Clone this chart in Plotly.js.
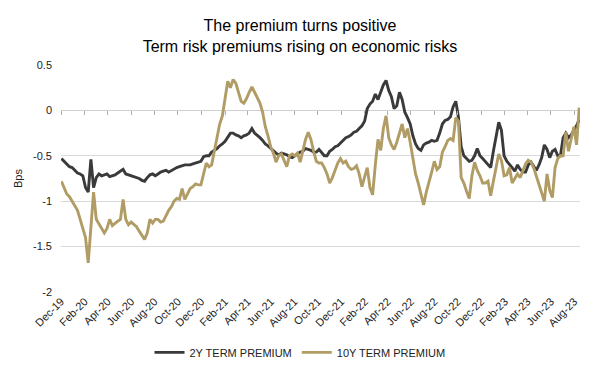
<!DOCTYPE html>
<html>
<head>
<meta charset="utf-8">
<script src="https://cdn.plot.ly/plotly-3.0.1.min.js"></script>
<style>html,body{margin:0;padding:0;background:#fff;}#chart{width:600px;height:369px;}</style>
</head>
<body>
<div id="chart"></div>
<script>
// Weekly observations starting Monday 2019-12-02
const startDate = "2019-12-02";
const seriesNames = ["2Y TERM PREMIUM", "10Y TERM PREMIUM"];
const yTickVals = [0.5, 0, -0.5, -1, -1.5, -2];
const yTickText = ["0.5", "0", "-0.5", "-1", "-1.5", "-2"];

const premium2y = [
 -0.53,-0.56,-0.60,-0.62,-0.63,-0.66,-0.69,-0.70,-0.72,-0.85,
 -0.90,-0.54,-0.85,-0.74,-0.70,-0.72,-0.71,-0.70,-0.73,-0.72,
 -0.71,-0.69,-0.67,-0.65,-0.70,-0.71,-0.72,-0.73,-0.74,-0.75,
 -0.77,-0.78,-0.74,-0.71,-0.70,-0.72,-0.70,-0.68,-0.67,-0.66,
 -0.68,-0.66,-0.64,-0.63,-0.62,-0.61,-0.60,-0.60,-0.60,-0.59,
 -0.58,-0.57,-0.56,-0.51,-0.50,-0.50,-0.46,-0.44,-0.42,-0.39,
 -0.37,-0.34,-0.30,-0.25,-0.25,-0.27,-0.28,-0.30,-0.28,-0.27,
 -0.25,-0.20,-0.25,-0.27,-0.30,-0.33,-0.37,-0.39,-0.42,-0.45,
 -0.47,-0.49,-0.47,-0.48,-0.49,-0.51,-0.52,-0.50,-0.48,-0.46,
 -0.45,-0.42,-0.43,-0.44,-0.46,-0.46,-0.43,-0.47,-0.50,-0.50,
 -0.45,-0.43,-0.40,-0.39,-0.36,-0.33,-0.30,-0.29,-0.27,-0.24,
 -0.23,-0.20,-0.17,-0.12,0.02,0.07,0.10,0.18,0.12,0.20,
 0.28,0.33,0.22,0.15,0.02,0.05,0.20,0.12,-0.02,-0.08,
 -0.15,-0.28,-0.37,-0.42,-0.44,-0.38,-0.36,-0.35,-0.33,-0.34,
 -0.33,-0.25,-0.15,-0.11,-0.10,-0.07,0.04,0.10,-0.08,-0.40,
 -0.50,-0.53,-0.56,-0.55,-0.50,-0.42,-0.50,-0.53,-0.56,-0.60,
 -0.63,-0.45,-0.30,-0.13,-0.22,-0.50,-0.56,-0.59,-0.63,-0.67,
 -0.60,-0.65,-0.68,-0.68,-0.60,-0.57,-0.62,-0.66,-0.60,-0.52,
 -0.38,-0.43,-0.52,-0.45,-0.43,-0.50,-0.50,-0.30,-0.25,-0.30,
 -0.27,-0.22,-0.17,-0.10
];

const premium10y = [
 -0.78,-0.85,-0.92,-0.95,-1.00,-1.06,-1.10,-1.20,-1.30,-1.40,
 -1.68,-1.30,-0.90,-1.20,-1.25,-1.30,-1.35,-1.30,-1.20,-1.27,
 -1.24,-1.22,-1.20,-0.98,-1.20,-1.26,-1.23,-1.26,-1.28,-1.33,
 -1.37,-1.42,-1.35,-1.20,-1.24,-1.20,-1.20,-1.23,-1.22,-1.15,
 -1.10,-1.06,-1.00,-0.97,-0.98,-0.86,-0.98,-0.92,-0.86,-0.84,
 -0.81,-0.82,-0.82,-0.70,-0.58,-0.62,-0.60,-0.45,-0.30,-0.15,
 -0.06,0.12,0.32,0.25,0.34,0.30,0.20,0.10,0.08,0.13,
 0.20,0.26,0.20,0.14,0.08,-0.02,-0.18,-0.28,-0.40,-0.47,
 -0.57,-0.50,-0.48,-0.55,-0.62,-0.50,-0.48,-0.50,-0.47,-0.57,
 -0.43,-0.32,-0.24,-0.32,-0.45,-0.56,-0.58,-0.58,-0.63,-0.70,
 -0.80,-0.74,-0.66,-0.58,-0.53,-0.58,-0.56,-0.62,-0.65,-0.64,
 -0.61,-0.70,-0.84,-0.72,-0.63,-0.85,-0.93,-0.60,-0.32,-0.44,
 -0.20,-0.06,-0.30,-0.38,-0.43,-0.35,-0.26,-0.15,-0.30,-0.20,
 -0.35,-0.52,-0.70,-0.80,-0.92,-1.04,-0.90,-0.80,-0.68,-0.56,
 -0.65,-0.62,-0.46,-0.40,-0.33,-0.31,-0.33,-0.08,-0.12,-0.74,
 -0.80,-0.89,-0.97,-0.72,-0.57,-0.66,-0.72,-0.80,-0.80,-0.78,
 -0.94,-0.78,-0.62,-0.48,-0.55,-0.72,-0.71,-0.63,-0.80,-0.75,
 -0.70,-0.74,-0.66,-0.59,-0.55,-0.57,-0.63,-0.72,-0.82,-0.90,
 -1.00,-0.70,-0.88,-0.96,-0.63,-0.53,-0.50,-0.50,-0.24,-0.45,
 -0.30,-0.18,-0.38,0.03
];

const dates = [];
const t0 = Date.parse(startDate + "T00:00:00Z");
for (let k = 0; k < premium2y.length; k++) {
  dates.push(new Date(t0 + k * 7 * 86400000).toISOString().slice(0, 10));
}

const xRange = ["2019-12-01", "2023-08-16"];
const FONT = "Liberation Sans, Arial, sans-serif";

const traces = [
  {x: dates, y: premium2y, name: seriesNames[0], type: "scatter", mode: "lines",
   line: {color: "#3a3a3a", width: 2.9}, xaxis: "x", yaxis: "y"},
  {x: dates, y: premium10y, name: seriesNames[1], type: "scatter", mode: "lines",
   line: {color: "#b09c64", width: 2.9}, xaxis: "x2", yaxis: "y"}
];

const layout = {
  width: 600, height: 369,
  margin: {l: 61, r: 20, t: 65, b: 77},
  paper_bgcolor: "#fff", plot_bgcolor: "#fff",
  font: {family: FONT, size: 11, color: "#000"},
  title: {text: "The premium turns positive<br>Term risk premiums rising on economic risks",
          x: 0.5, xanchor: "center", y: 0.915, yanchor: "middle",
          font: {family: FONT, size: 16, color: "#000"}},
  showlegend: true,
  legend: {orientation: "h", xref: "container", yref: "container",
           x: 0.5, xanchor: "center", y: 0.045, yanchor: "middle",
           font: {family: FONT, size: 11, color: "#222"}, itemwidth: 30,
           traceorder: "normal", tracegroupgap: 0},
  xaxis: {type: "date", range: xRange, tick0: "2019-12-01", dtick: "M2",
          tickformat: "%b-%y", tickangle: -45, ticks: "", showgrid: false,
          zeroline: false, showline: false, fixedrange: true,
          tickfont: {family: FONT, size: 11, color: "#222"}},
  xaxis2: {type: "date", range: xRange, tick0: "2019-12-01", dtick: "M2",
           overlaying: "x", anchor: "free", position: 0.8, side: "bottom",
           ticks: "outside", ticklen: 4, tickwidth: 1, tickcolor: "#b0b0b0",
           showticklabels: false, showgrid: false, zeroline: false, showline: false},
  yaxis: {range: [-2, 0.5], tickvals: yTickVals, ticktext: yTickText,
          showgrid: true, gridcolor: "#d9d9d9", gridwidth: 1,
          zeroline: true, zerolinecolor: "#d0d0d0", zerolinewidth: 1,
          ticks: "", ticklabelstandoff: 8, showline: false,
          tickfont: {family: FONT, size: 11, color: "#222"},
          title: {text: "Bps", standoff: 8, font: {family: FONT, size: 11, color: "#222"}}}
};

Plotly.newPlot("chart", traces, layout, {displayModeBar: false, staticPlot: true});
</script>
</body>
</html>
